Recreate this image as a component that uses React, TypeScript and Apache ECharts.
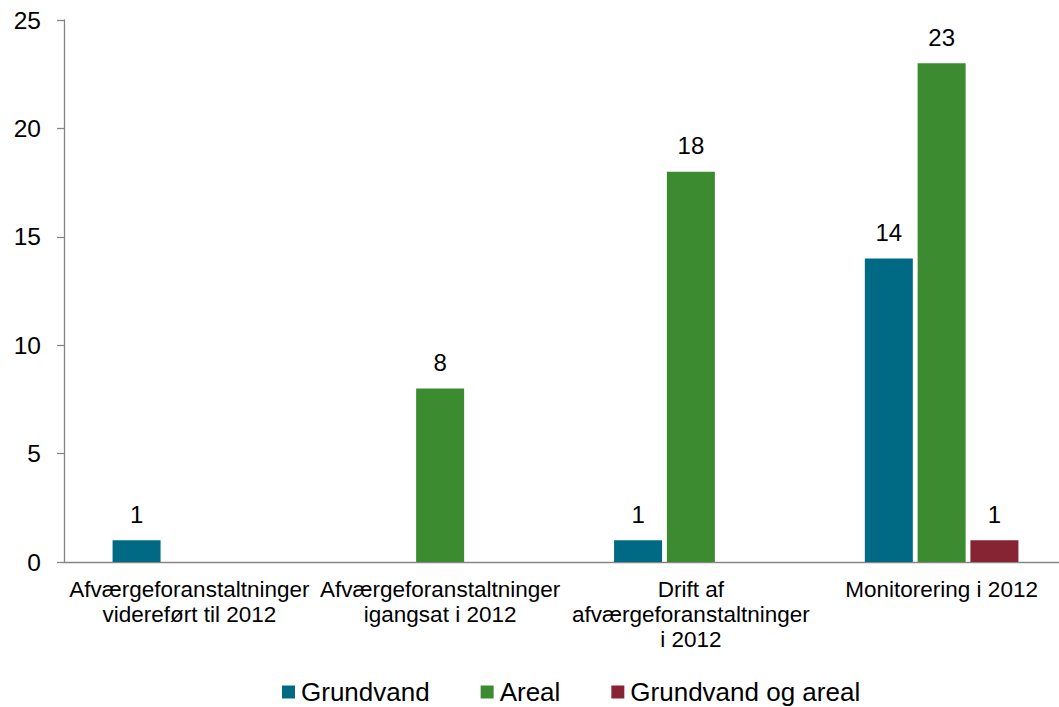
import React, { useEffect, useRef } from "react";
import * as echarts from "echarts";

const categories = [
  "Afværgeforanstaltninger\nvidereført til 2012",
  "Afværgeforanstaltninger\nigangsat i 2012",
  "Drift af\nafværgeforanstaltninger\ni 2012",
  "Monitorering i 2012",
];
const grundvand: (number | null)[] = [1, null, 1, 14];
const areal: (number | null)[] = [null, 8, 18, 23];
const grundvandOgAreal: (number | null)[] = [null, null, null, 1];
const yTicks = { min: 0, max: 25, interval: 5 };

const FONT = "'Liberation Sans', Arial, sans-serif";

export default function App() {
  const ref = useRef<HTMLDivElement>(null);
  useEffect(() => {
    document.body.style.margin = "0";
    const chart = echarts.init(ref.current!, null, { renderer: "svg" });
    const label = {
      show: true,
      position: "top" as const,
      distance: 14,
      fontSize: 24,
      color: "#000",
      fontFamily: FONT,
    };
    const mk = (name: string, data: (number | null)[], color: string) => ({
      name,
      type: "bar",
      data,
      barWidth: 48,
      barGap: "10%",
      itemStyle: { color },
      label,
    });
    chart.setOption({
      animation: false,
      textStyle: { fontFamily: FONT },
      grid: { left: 64, top: 20, height: 542, width: 1003, outerBoundsMode: "none", containLabel: false },
      legend: {
        top: 679,
        left: 282,
        padding: 0,
        itemWidth: 13,
        itemHeight: 13,
        itemGap: 51,
        icon: "rect",
        textStyle: { fontSize: 26, lineHeight: 26, color: "#000", fontFamily: FONT, padding: [0, 0, 0, 1] },
      },
      xAxis: {
        type: "category",
        data: categories,
        axisLine: { lineStyle: { color: "#868686", width: 1.3 } },
        axisTick: { length: 7, lineStyle: { color: "#868686", width: 1.3 } },
        axisLabel: {
          interval: 0,
          fontSize: 22.5,
          lineHeight: 25,
          color: "#000",
          margin: 15,
          fontFamily: FONT,
        },
      },
      yAxis: {
        type: "value",
        min: yTicks.min,
        max: yTicks.max,
        interval: yTicks.interval,
        splitLine: { show: false },
        axisLine: { show: true, lineStyle: { color: "#868686", width: 1.3 } },
        axisTick: { show: true, length: 7, lineStyle: { color: "#868686", width: 1.3 } },
        axisLabel: { fontSize: 24.5, color: "#000", margin: 23, fontFamily: FONT },
      },
      series: [
        mk("Grundvand", grundvand, "#006A84"),
        mk("Areal", areal, "#3D8B30"),
        mk("Grundvand og areal", grundvandOgAreal, "#862434"),
      ],
    });
    return () => chart.dispose();
  }, []);
  return <div ref={ref} style={{ width: 1059, height: 707 }} />;
}
